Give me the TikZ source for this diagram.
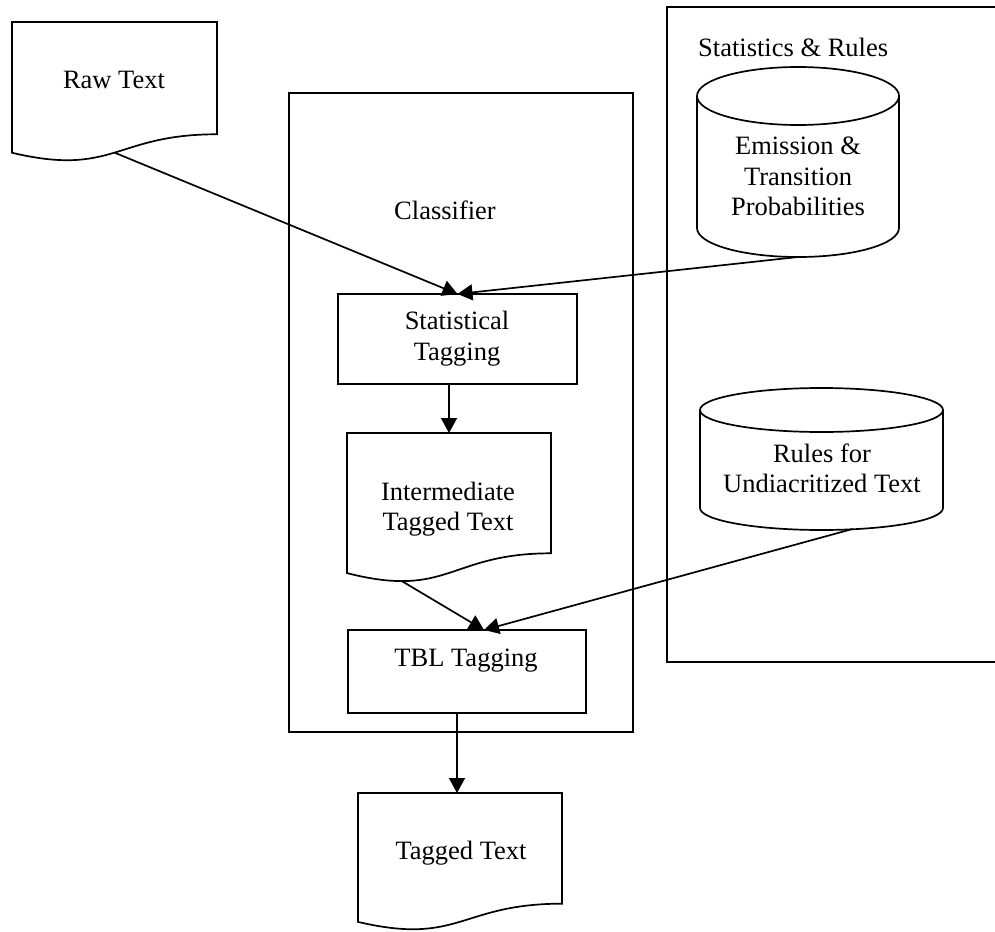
\documentclass[tikz,border=0pt]{standalone}
\usepackage{fontspec}
\setmainfont{Liberation Serif}
\usetikzlibrary{calc,arrows.meta}

% Flowchart "document" outline: straight top and sides, wavy bottom edge
\newcommand\docoutline[1]{%
  \draw[line] (#1.north west) -- (#1.north east)
    -- ($(#1.north east)!0.802!(#1.south east)$)
    .. controls ($(#1.north)!0.802!(#1.south)$) and ($(#1.north)!1.1075!(#1.south)$)
    .. ($(#1.north west)!0.934!(#1.south west)$) -- cycle;}

% Upright storage drum: #1 node, #2 half width, #3 ellipse half height
\newcommand\drum[3]{%
  \draw[line] ([yshift=-#3]#1.north west) -- ([yshift=#3]#1.south west)
    arc[start angle=180, end angle=360, x radius=#2, y radius=#3]
    -- ([yshift=-#3]#1.north east)
    arc[start angle=0, end angle=180, x radius=#2, y radius=#3] -- cycle;
  \draw[line] ([yshift=-#3]#1.north west)
    arc[start angle=180, end angle=360, x radius=#2, y radius=#3];}

\begin{document}
\begin{tikzpicture}[x=1pt, y=-1pt,
  line/.style={line width=1.7pt, line join=miter},
  shapebox/.style={rectangle, inner sep=0pt, outer sep=0pt},
  framebox/.style={shapebox, draw, line},
  conn/.style={line width=1.7pt, -{Triangle[length=15pt, width=16pt]}},
  txt/.style={font=\fontsize{26.5pt}{30.5pt}\selectfont, inner sep=0pt, align=center}]
\useasboundingbox (0,0) rectangle (995,931);

% outer frames
\node[framebox, minimum width=344pt, minimum height=639pt] (classifier) at (461,412.5) {};
\node[txt, anchor=base] (classlabel) at (445,219) {Classifier};
\draw[line] (995,7) -- (667,7) -- (667,662) -- (995,662);
\node[txt, anchor=base west] (statslabel) at (698,57) {Statistics \& Rules};

% input document
\node[shapebox, minimum width=205pt, minimum height=140pt] (raw) at (114.5,92) {};
\docoutline{raw}
\node[txt, anchor=base] (rawlabel) at (114,89) {Raw Text};

% statistical tagging step
\node[framebox, minimum width=239pt, minimum height=90pt] (stat) at (457.5,339) {};
\node[txt] (statlabel) at (457,338.9) {\strut Statistical\\Tagging\strut};

% intermediate document
\node[shapebox, minimum width=204pt, minimum height=150pt] (inter) at (449,508) {};
\docoutline{inter}
\node[txt] (interlabel) at (448,509.4) {\strut Intermediate\\Tagged Text\strut};

% rule based tagging step
\node[framebox, minimum width=238pt, minimum height=83pt] (tbl) at (467,671.5) {};
\node[txt, anchor=base] (tbllabel) at (466,666) {TBL Tagging};

% output document
\node[shapebox, minimum width=204pt, minimum height=138pt] (tagged) at (460,862) {};
\docoutline{tagged}
\node[txt, anchor=base] (taggedlabel) at (461,859) {Tagged Text};

% data stores
\node[shapebox, minimum width=202pt, minimum height=190pt] (emis) at (798,162) {};
\drum{emis}{101pt}{29pt}
\node[txt] (emislabel) at (798,178.9) {\strut Emission \&\\Transition\\Probabilities\strut};

\node[shapebox, minimum width=243pt, minimum height=142pt] (rules) at (821.5,459) {};
\drum{rules}{121.5pt}{22pt}
\node[txt] (ruleslabel) at (822,471.4) {\strut Rules for\\Undiacritized Text\strut};

% connectors
\coordinate (raw-out) at ($(raw.north)!0.933!(raw.south)$);
\coordinate (inter-out) at ($(inter.south west)!0.268!(inter.south east) + (0pt,2pt)$);
\coordinate (tbl-in) at ([xshift=17pt]tbl.north);
\coordinate (rules-out) at ([xshift=31pt, yshift=1pt]rules.south);
\coordinate (tagged-in) at ([xshift=-3pt]tagged.north);

\draw[conn] (raw-out) -- (stat.north);
\draw[conn] (emis.south) -- (stat.north);
\draw[conn] (inter.north |- stat.south) -- (inter.north);
\draw[conn] (inter-out) -- (tbl-in);
\draw[conn] (rules-out) -- (tbl-in);
\draw[conn] (tbl.south -| tagged-in) -- (tagged-in);
\end{tikzpicture}
\end{document}
